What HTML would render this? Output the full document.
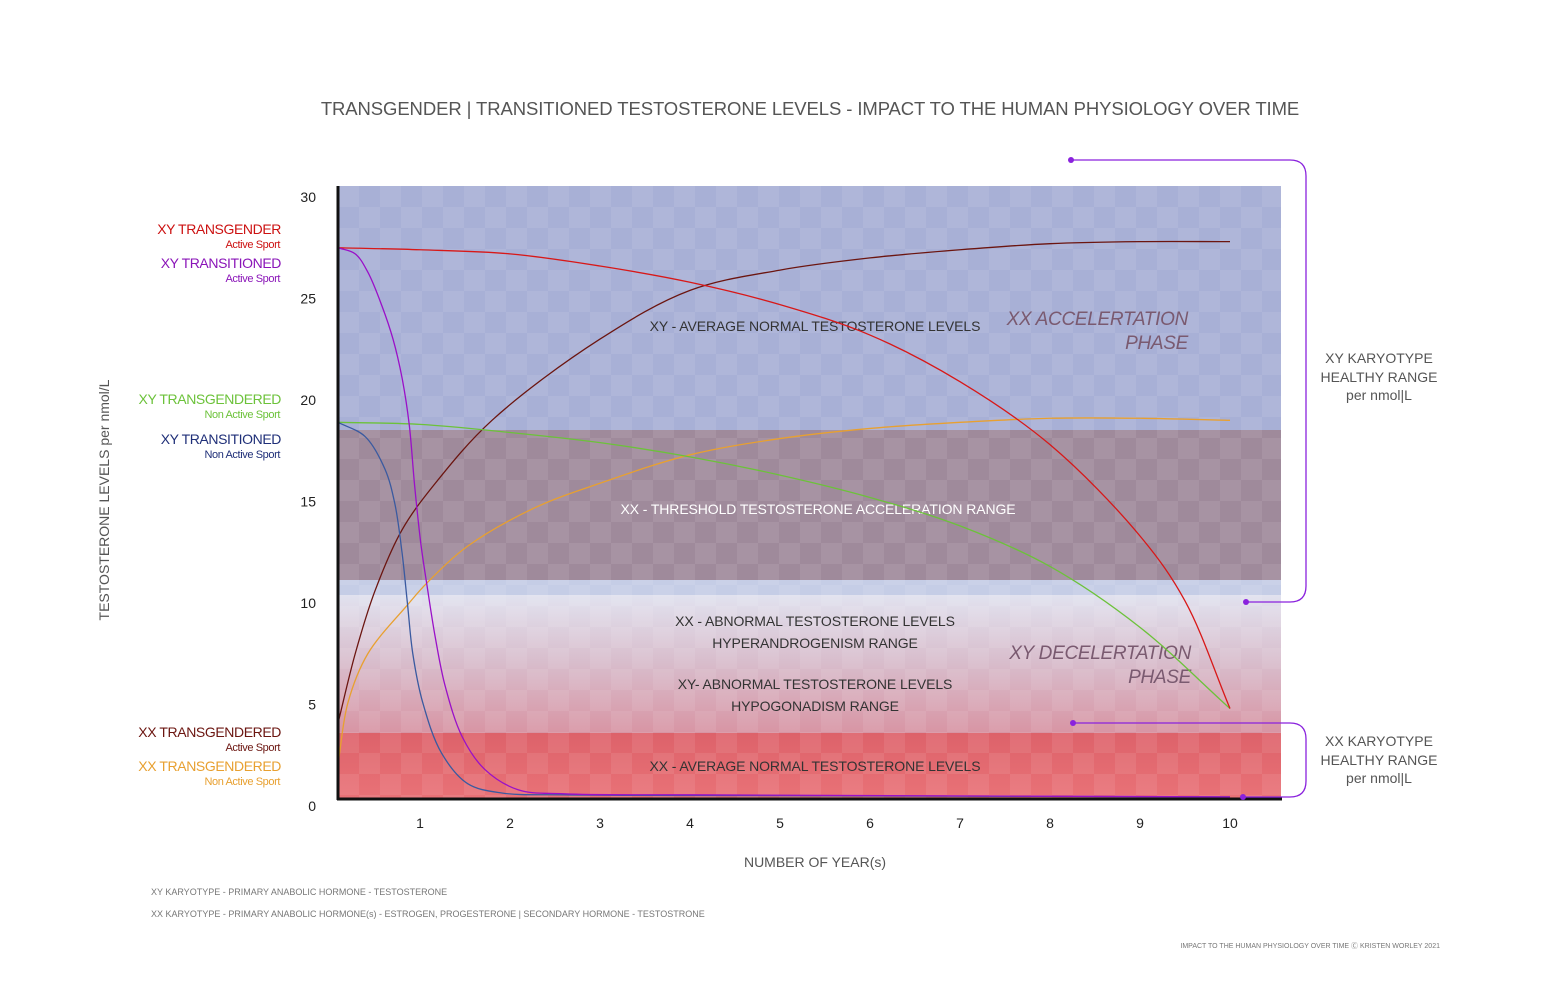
<!DOCTYPE html>
<html><head><meta charset="utf-8">
<style>
html,body{margin:0;padding:0;background:#fff;}
body{width:1545px;height:1000px;overflow:hidden;font-family:"Liberation Sans",sans-serif;}
svg text{font-family:"Liberation Sans",sans-serif;}
</style></head>
<body>
<svg id="chart" width="1545" height="1000" viewBox="0 0 1545 1000">
<defs>
<pattern id="checker" width="42" height="42" patternUnits="userSpaceOnUse" x="338" y="186">
<rect width="21" height="21" fill="#fff" opacity="0.08"/>
<rect x="21" y="21" width="21" height="21" fill="#fff" opacity="0.08"/>
</pattern>
<linearGradient id="midGrad" x1="0" y1="0" x2="0" y2="1">
<stop offset="0" stop-color="#e1e2ef"/>
<stop offset="0.5" stop-color="#d8bccb"/>
<stop offset="1" stop-color="#d895a4"/>
</linearGradient>
<linearGradient id="redGrad" x1="0" y1="0" x2="0" y2="1">
<stop offset="0" stop-color="#dd626a"/>
<stop offset="1" stop-color="#e97277"/>
</linearGradient>
</defs>
<text x="810" y="115" text-anchor="middle" font-size="18.5" letter-spacing="-0.1" fill="#555">TRANSGENDER | TRANSITIONED TESTOSTERONE LEVELS - IMPACT TO THE HUMAN PHYSIOLOGY OVER TIME</text>

<g>
<rect x="338" y="186" width="943" height="244" fill="#a8b0d6"/>
<rect x="338" y="430" width="943" height="150" fill="#9f8a9b"/>
<rect x="338" y="580" width="943" height="15" fill="#c5cde6"/>
<rect x="338" y="595" width="943" height="138" fill="url(#midGrad)"/>
<rect x="338" y="733" width="943" height="66" fill="url(#redGrad)"/>
<rect x="338" y="186" width="943" height="613" fill="url(#checker)"/>
</g>

<g font-size="14" fill="#333" text-anchor="middle" letter-spacing="-0.1">
<text x="815" y="331">XY - AVERAGE NORMAL TESTOSTERONE LEVELS</text>
<text x="818" y="514" fill="#fff">XX - THRESHOLD TESTOSTERONE ACCELERATION RANGE</text>
<text x="815" y="626">XX - ABNORMAL TESTOSTERONE LEVELS</text>
<text x="815" y="648">HYPERANDROGENISM RANGE</text>
<text x="815" y="689">XY- ABNORMAL TESTOSTERONE LEVELS</text>
<text x="815" y="711">HYPOGONADISM RANGE</text>
<text x="815" y="771">XX - AVERAGE NORMAL TESTOSTERONE LEVELS</text>
</g>
<g font-size="19" font-style="italic" fill="#7a5a70" text-anchor="end" letter-spacing="-0.3">
<text x="1188" y="325">XX ACCELERTATION</text>
<text x="1188" y="349">PHASE</text>
<text x="1191" y="659">XY DECELERTATION</text>
<text x="1191" y="683">PHASE</text>
</g>

<g id="series"></g>

<line x1="338" y1="186" x2="338" y2="800" stroke="#111" stroke-width="3"/>
<line x1="337" y1="799" x2="1282" y2="799" stroke="#111" stroke-width="3"/>
<g id="yticks" font-size="14" fill="#222" text-anchor="end"></g>
<g id="xticks" font-size="14" fill="#222" text-anchor="middle"></g>

<text x="815" y="867" text-anchor="middle" font-size="14" fill="#555">NUMBER OF YEAR(s)</text>
<text transform="translate(109,500) rotate(-90)" text-anchor="middle" font-size="14" fill="#555">TESTOSTERONE LEVELS  per nmol/L</text>

<g text-anchor="end" letter-spacing="-0.4">
<g><text x="281" y="234" font-size="14" fill="#cc1111">XY TRANSGENDER</text><text x="280" y="248" font-size="11" fill="#cc1111">Active Sport</text></g>
<g><text x="281" y="268" font-size="14" fill="#8a14b8">XY TRANSITIONED</text><text x="280" y="282" font-size="11" fill="#8a14b8">Active Sport</text></g>
<g><text x="281" y="404" font-size="14" fill="#6cc23a">XY TRANSGENDERED</text><text x="280" y="418" font-size="11" fill="#6cc23a">Non Active Sport</text></g>
<g><text x="281" y="444" font-size="14" fill="#1f2f78">XY TRANSITIONED</text><text x="280" y="458" font-size="11" fill="#1f2f78">Non Active Sport</text></g>
<g><text x="281" y="737" font-size="14" fill="#6b1510">XX TRANSGENDERED</text><text x="280" y="751" font-size="11" fill="#6b1510">Active Sport</text></g>
<g><text x="281" y="771" font-size="14" fill="#e8a030">XX TRANSGENDERED</text><text x="280" y="785" font-size="11" fill="#e8a030">Non Active Sport</text></g>
</g>

<g fill="none" stroke="#8a22dd" stroke-width="1.3">
<path d="M1071 160 H1290 Q1306 160 1306 176 V586 Q1306 602 1290 602 H1246"/>
<path d="M1073 723 H1290 Q1306 723 1306 739 V781 Q1306 797 1290 797 H1243"/>
</g>
<g fill="#8a22dd"><circle cx="1071" cy="160" r="3"/><circle cx="1246" cy="602" r="3"/><circle cx="1073" cy="723" r="3"/><circle cx="1243" cy="797" r="3"/></g>
<g text-anchor="middle" font-size="14" fill="#555">
<g><text x="1379" y="363">XY KARYOTYPE</text><text x="1379" y="382">HEALTHY RANGE</text><text x="1379" y="400">per nmol|L</text></g>
<g><text x="1379" y="746">XX KARYOTYPE</text><text x="1379" y="765">HEALTHY RANGE</text><text x="1379" y="783">per nmol|L</text></g>
</g>
<g font-size="9" fill="#777">
<text x="151" y="895">XY KARYOTYPE - PRIMARY ANABOLIC HORMONE - TESTOSTERONE</text>
<text x="151" y="917">XX KARYOTYPE - PRIMARY ANABOLIC HORMONE(s) - ESTROGEN, PROGESTERONE | SECONDARY HORMONE - TESTOSTRONE</text>
<text x="1440" y="948" text-anchor="end" font-size="7">IMPACT TO THE HUMAN PHYSIOLOGY OVER TIME  Ⓒ KRISTEN WORLEY 2021</text>
</g>
</svg>
<script>
const yTicks = [0, 5, 10, 15, 20, 25, 30];
const xTicks = [1, 2, 3, 4, 5, 6, 7, 8, 9, 10];
const xyTransgenderT = [0.09, 1, 2, 3, 4, 5, 6, 7, 8, 9, 9.5, 10];
const xyTransgenderV = [27.5, 27.4, 27.2, 26.6, 25.8, 24.7, 23.2, 20.9, 17.8, 13.3, 10.1, 4.8];
const xyTransgenderedT = [0.09, 1, 2, 3, 4, 5, 6, 7, 8, 9, 10];
const xyTransgenderedV = [18.9, 18.8, 18.4, 17.9, 17.2, 16.3, 15.2, 13.8, 11.8, 8.8, 4.8];
const xyTransitionedActiveT = [0.09, 0.28, 0.42, 0.58, 0.7, 0.8, 0.88, 0.94, 1.01, 1.08, 1.17, 1.28, 1.47, 1.72, 2.09, 2.6, 4, 10];
const xyTransitionedActiveV = [27.5, 27.2, 26.3, 24.6, 23.0, 21.1, 18.8, 15.8, 12.9, 10.8, 8.3, 5.9, 3.4, 1.8, 0.8, 0.6, 0.55, 0.45];
const xyTransitionedNonT = [0.09, 0.39, 0.61, 0.72, 0.8, 0.86, 0.92, 1.03, 1.24, 1.53, 1.91, 2.6, 4, 10];
const xyTransitionedNonV = [18.9, 18.2, 16.6, 14.9, 12.5, 10.0, 7.5, 5.1, 2.6, 1.1, 0.64, 0.55, 0.52, 0.45];
const xxActiveT = [0.09, 0.28, 0.5, 0.8, 1.17, 1.8, 3, 4, 5, 6, 7, 8, 9, 10];
const xxActiveV = [4.1, 7.5, 10.6, 13.6, 15.9, 19.0, 23.0, 25.4, 26.4, 27.0, 27.4, 27.7, 27.8, 27.8];
const xxNonT = [0.09, 0.2, 0.42, 0.86, 1.08, 1.53, 2.28, 3, 4, 5, 6, 7, 8, 9, 10];
const xxNonV = [2.1, 5.1, 7.5, 9.9, 11.0, 12.8, 14.7, 15.9, 17.3, 18.1, 18.6, 18.9, 19.1, 19.1, 19.0];

function xPix(t){ return 330 + 90 * t; }
function yPix(v){ return 806 - 20.3 * v; }
const NS = 'http://www.w3.org/2000/svg';

function smoothPath(ts, vs){
  const p = ts.map((t,i)=>[xPix(t), yPix(vs[i])]), n = p.length;
  const dist = (a,b)=>Math.sqrt(Math.hypot(a[0]-b[0], a[1]-b[1]));
  let s = 'M'+p[0][0]+' '+p[0][1];
  for (let i=0;i<n-1;i++){
    const p0=p[Math.max(0,i-1)], p1=p[i], p2=p[i+1], p3=p[Math.min(n-1,i+2)];
    const d1=dist(p0,p1), d2=dist(p1,p2), d3=dist(p2,p3);
    let c1=p1.slice(), c2=p2.slice();
    if (d1>1e-6){
      for (let k=0;k<2;k++) c1[k]=(d1*d1*p2[k]-d2*d2*p0[k]+(2*d1*d1+3*d1*d2+d2*d2)*p1[k])/(3*d1*(d1+d2));
    } else { for (let k=0;k<2;k++) c1[k]=p1[k]+(p2[k]-p1[k])/3; }
    if (d3>1e-6){
      for (let k=0;k<2;k++) c2[k]=(d3*d3*p1[k]-d2*d2*p3[k]+(2*d3*d3+3*d3*d2+d2*d2)*p2[k])/(3*d3*(d3+d2));
    } else { for (let k=0;k<2;k++) c2[k]=p2[k]-(p2[k]-p1[k])/3; }
    s += ' C'+c1[0]+' '+c1[1]+' '+c2[0]+' '+c2[1]+' '+p2[0]+' '+p2[1];
  }
  return s;
}
const g = document.getElementById('series');
function addLine(ts, vs, color, name){
  const el = document.createElementNS(NS,'path');
  el.setAttribute('d', smoothPath(ts, vs));
  el.setAttribute('fill','none');
  el.setAttribute('stroke', color);
  el.setAttribute('stroke-width','1.3');
  
  
  g.appendChild(el);
}
addLine(xxNonT, xxNonV, '#e8a030', 'line-xx-transgendered-nonactive');
addLine(xxActiveT, xxActiveV, '#6b1510', 'line-xx-transgendered-active');
addLine(xyTransgenderedT, xyTransgenderedV, '#6cc23a', 'line-xy-transgendered-nonactive');
addLine(xyTransgenderT, xyTransgenderV, '#d81818', 'line-xy-transgender-active');
addLine(xyTransitionedNonT, xyTransitionedNonV, '#3a5aa0', 'line-xy-transitioned-nonactive');
addLine(xyTransitionedActiveT, xyTransitionedActiveV, '#9a10c8', 'line-xy-transitioned-active');

const yg = document.getElementById('yticks');
yTicks.forEach(v=>{
  const t = document.createElementNS(NS,'text');
  t.setAttribute('x', 316);
  t.setAttribute('y', yPix(v) + 5);
  t.textContent = v;
  
  
  yg.appendChild(t);
});
const xg = document.getElementById('xticks');
xTicks.forEach(v=>{
  const t = document.createElementNS(NS,'text');
  t.setAttribute('x', xPix(v));
  t.setAttribute('y', 828);
  t.textContent = v;
  
  
  xg.appendChild(t);
});
</script>
</body></html>
